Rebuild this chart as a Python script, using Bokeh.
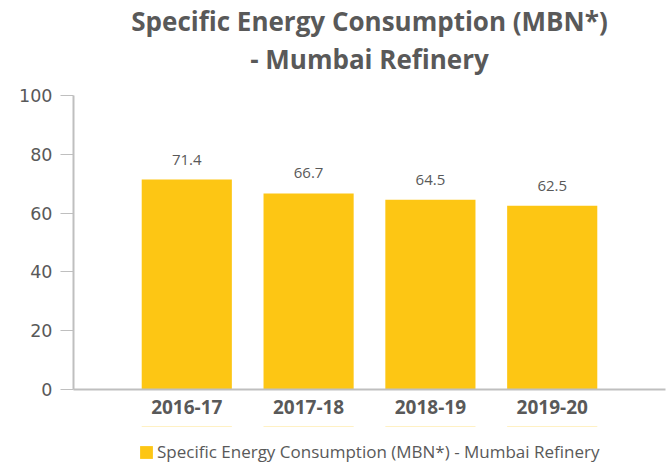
from bokeh.plotting import figure
from bokeh.layouts import column
from bokeh.models import ColumnDataSource, FactorRange, Range1d, FixedTicker, Title, Legend, LegendItem
from bokeh.core.properties import value
from bokeh.embed import file_html
from bokeh.resources import INLINE

years = ["2016-17", "2017-18", "2018-19", "2019-20"]
sec_values = [71.4, 66.7, 64.5, 62.5]
y_ticks = [0, 20, 40, 60, 80, 100]
series_name = "Specific Energy Consumption (MBN*) - Mumbai Refinery"
title_line1 = "Specific Energy Consumption (MBN*)"
title_line2 = "- Mumbai Refinery"

FONT = "Open Sans"
NUMFONT = "DejaVu Sans"
GRAY = "#595959"
AXIS = "#bfbfbf"
BAR = "#fdc614"

src = ColumnDataSource(dict(x=years, y=sec_values, lab=[f"{v:.1f}" for v in sec_values]))

xr = FactorRange(factors=years, range_padding=0.43, range_padding_units="absolute")

p = figure(width=666, height=426, output_backend="svg", toolbar_location=None,
           x_range=xr, y_range=Range1d(0, 100), title=None,
           min_border_left=73, min_border_right=1, min_border_top=93, min_border_bottom=37)

bars = p.vbar(x="x", top="y", width=0.74, source=src, color=BAR, line_color=None)
p.text(x="x", y="y", text="lab", source=src, text_align="center", text_baseline="bottom",
       y_offset=-15, text_font=value(FONT), text_font_size="15px", text_color=GRAY)

spacer = Title(text=" ", text_font=FONT, text_font_size="12px", standoff=0)
t2 = Title(text=title_line2, align="center", text_font=FONT, text_font_size="26px",
           text_font_style="bold", text_color=GRAY, standoff=0)
t1 = Title(text=title_line1, align="center", text_font=FONT, text_font_size="26px",
           text_font_style="bold", text_color=GRAY, standoff=0)
p.add_layout(spacer, "above")
p.add_layout(t2, "above")
p.add_layout(t1, "above")

p.xgrid.grid_line_color = None
p.ygrid.grid_line_color = None
p.outline_line_color = None

p.yaxis.ticker = FixedTicker(ticks=y_ticks)
p.yaxis.axis_line_color = AXIS
p.yaxis.major_tick_line_color = AXIS
p.yaxis.major_tick_out = 13
p.yaxis.major_tick_in = 0
p.yaxis.minor_tick_line_color = None
p.yaxis.major_label_standoff = 8
p.yaxis.major_label_text_font = NUMFONT
p.yaxis.major_label_text_font_size = "17.5px"
p.yaxis.major_label_text_color = GRAY

p.xaxis.axis_line_color = AXIS
p.xaxis.axis_line_width = 2
p.yaxis.axis_line_width = 2
p.xaxis.major_tick_line_color = None
p.xaxis.major_label_standoff = 4
p.xaxis.major_label_text_font = FONT
p.xaxis.major_label_text_font_size = "19px"
p.xaxis.major_label_text_font_style = "bold"
p.xaxis.major_label_text_color = GRAY

# legend strip below the chart (same series, drawn outside its visible range)
q = figure(width=666, height=37, output_backend="svg", toolbar_location=None,
           x_range=xr, y_range=Range1d(-2, -1), title=None,
           x_axis_location=None, y_axis_location=None,
           min_border_left=0, min_border_right=0, min_border_top=0, min_border_bottom=0)
q.xgrid.grid_line_color = None
q.ygrid.grid_line_color = None
q.outline_line_color = None
swatch = q.vbar(x="x", top="y", width=0.74, source=src, color=BAR, line_color=None)

legend = Legend(items=[LegendItem(label=series_name, renderers=[swatch])],
                location=(65, 0), orientation="horizontal",
                label_text_font=FONT, label_text_font_size="17px", label_text_color=GRAY,
                glyph_width=16, glyph_height=16, label_standoff=3,
                border_line_color=None, background_fill_alpha=0, padding=0, margin=0)
q.add_layout(legend, "center")

layout = column(p, q, spacing=0)
open("out.html", "w").write(file_html(layout, INLINE))
